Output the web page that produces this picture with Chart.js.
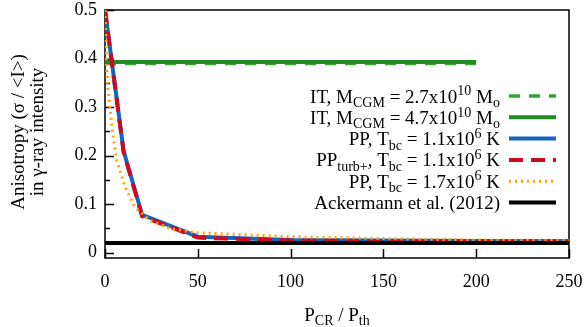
<!DOCTYPE html>
<html>
<head>
<meta charset="utf-8">
<script src="https://cdn.jsdelivr.net/npm/chart.js@4.4.1/dist/chart.umd.min.js"></script>
<style>
  html, body { margin: 0; padding: 0; background: #fff; }
</style>
</head>
<body>
<canvas id="anisoChart" width="587" height="327"></canvas>
<script>
// values (x = P_CR / P_th, y = anisotropy)
const itX = [0, 200];
const itLowMass = [0.390, 0.390];
const itHighMass = [0.393, 0.393];

const ppX = [0, 10, 20, 50, 100, 150, 200, 250];
const ppCool = [0.5, 0.21, 0.078, 0.033, 0.026, 0.025, 0.024, 0.024];
const ppTurb = [0.5, 0.208, 0.075, 0.031, 0.025, 0.024, 0.023, 0.023];

const ppHotX = [0, 0.5, 1.25, 2.7, 4, 6.3, 10.8, 16, 24, 35, 50, 100, 150, 200, 250];
const ppHot = [0.5, 0.44, 0.35, 0.30, 0.25, 0.19, 0.136, 0.094, 0.067, 0.05, 0.041, 0.033, 0.029, 0.026, 0.025];

const ackX = [0, 250];
const ackermann = [0.02, 0.02];

const xTicks = [0, 50, 100, 150, 200, 250];
const yTicks = [0, 0.1, 0.2, 0.3, 0.4, 0.5];
const yMinorTicks = [0.05, 0.15, 0.25, 0.35, 0.45];

// legend labels, split into [text, 'sub' | 'sup' | ''] pieces
const legendLabels = [
    [["IT, M", ""], ["CGM", "sub"], [" = 2.7x10", ""], ["10", "sup"], [" M", ""], ["o", "sub"]],
    [["IT, M", ""], ["CGM", "sub"], [" = 4.7x10", ""], ["10", "sup"], [" M", ""], ["o", "sub"]],
    [["PP, T", ""], ["bc", "sub"], [" = 1.1x10", ""], ["6", "sup"], [" K", ""]],
    [["PP", ""], ["turb+", "sub"], [", T", ""], ["bc", "sub"], [" = 1.1x10", ""], ["6", "sup"], [" K", ""]],
    [["PP, T", ""], ["bc", "sub"], [" = 1.7x10", ""], ["6", "sup"], [" K", ""]],
    [["Ackermann et al. (2012)", ""]]
];
const xTitle = [["P", ""], ["CR", "sub"], [" / P", ""], ["th", "sub"]];
const yTitleLines = ["Anisotropy (\u03c3 / <I>)", "in \u03b3-ray intensity"];

const serif = "'Liberation Serif', 'DejaVu Serif', serif";

function toPoints(xs, ys) {
    return xs.map((x, i) => ({ x: x, y: ys[i] }));
}

const datasets = [
    { data: toPoints(itX, itLowMass), borderColor: "#35a335", borderWidth: 3.5, borderDash: [11, 9] },
    { data: toPoints(itX, itHighMass), borderColor: "#228b22", borderWidth: 4 },
    { data: toPoints(ppX, ppCool), borderColor: "#1565c0", borderWidth: 4 },
    { data: toPoints(ppX, ppTurb), borderColor: "#cc0a24", borderWidth: 4, borderDash: [14, 8] },
    { data: toPoints(ppHotX, ppHot), borderColor: "#ffa500", borderWidth: 3, borderDash: [2, 4] },
    { data: toPoints(ackX, ackermann), borderColor: "#000000", borderWidth: 4 }
].map((d, i) => Object.assign({
    showLine: true,
    pointRadius: 0,
    fill: false,
    tension: 0,
    borderCapStyle: "butt",
    order: -i // later series drawn on top, as in the original
}, d));

function drawRich(ctx, parts, x, baseline, size, align) {
    const fontFor = p => (p[1] ? Math.round(size * 0.74) : size) + "px " + serif;
    let total = 0;
    parts.forEach(p => { ctx.font = fontFor(p); total += ctx.measureText(p[0]).width; });
    let cx = align === "right" ? x - total : (align === "center" ? x - total / 2 : x);
    ctx.textAlign = "left";
    ctx.textBaseline = "alphabetic";
    parts.forEach(p => {
        ctx.font = fontFor(p);
        const dy = p[1] === "sub" ? size * 0.24 : (p[1] === "sup" ? -size * 0.38 : 0);
        ctx.fillText(p[0], cx, baseline + dy);
        cx += ctx.measureText(p[0]).width;
    });
}

const decorPlugin = {
    id: "decor",
    beforeDatasetsDraw(chart) {
        const ctx = chart.ctx;
        const a = chart.chartArea;
        const xs = chart.scales.x, ys = chart.scales.y;
        ctx.save();
        ctx.strokeStyle = "#000";
        ctx.lineWidth = 1.5;
        ctx.strokeRect(a.left, a.top, a.right - a.left, a.bottom - a.top);
        ctx.beginPath();
        yTicks.forEach(v => {
            const y = Math.round(ys.getPixelForValue(v)) + 0.5;
            ctx.moveTo(a.left, y); ctx.lineTo(a.left + 9, y);
        });
        yMinorTicks.forEach(v => {
            const y = Math.round(ys.getPixelForValue(v)) + 0.5;
            ctx.moveTo(a.left, y); ctx.lineTo(a.left + 5, y);
        });
        xTicks.forEach(v => {
            const x = Math.round(xs.getPixelForValue(v)) + 0.5;
            ctx.moveTo(x, a.bottom); ctx.lineTo(x, a.bottom - 9);
        });
        ctx.stroke();
        ctx.restore();
    },
    afterDraw(chart) {
        const ctx = chart.ctx;
        const a = chart.chartArea;
        ctx.save();
        ctx.fillStyle = "#000";
        // legend
        const rowTop = 102.5, rowGap = 21.3;
        legendLabels.forEach((parts, i) => {
            const base = rowTop + i * rowGap;
            drawRich(ctx, parts, 500, base, 19, "right");
            const ds = chart.data.datasets[i];
            ctx.beginPath();
            ctx.strokeStyle = ds.borderColor;
            ctx.lineWidth = ds.borderWidth;
            ctx.setLineDash(ds.borderDash || []);
            ctx.moveTo(509, base - 6.5);
            ctx.lineTo(556, base - 6.5);
            ctx.stroke();
            ctx.setLineDash([]);
        });
        // axis titles
        drawRich(ctx, xTitle, (a.left + a.right) / 2, 320.5, 19, "center");
        ctx.font = "19px " + serif;
        ctx.textAlign = "center";
        ctx.textBaseline = "alphabetic";
        ctx.translate(24, 132);
        ctx.rotate(-Math.PI / 2);
        ctx.fillText(yTitleLines[0], 0, 0);
        ctx.fillText(yTitleLines[1], 0, 18.5);
        ctx.restore();
    }
};

const ctx = document.getElementById("anisoChart").getContext("2d");
const chart = new Chart(ctx, {
    type: "scatter",
    data: { datasets: datasets },
    options: {
        responsive: false,
        animation: false,
        layout: { padding: { left: 0, right: 18, top: 10, bottom: 0 } },
        plugins: { legend: { display: false }, tooltip: { enabled: false } },
        scales: {
            x: {
                type: "linear",
                min: 0,
                max: 250,
                grid: { display: false, drawTicks: false },
                border: { display: false },
                afterBuildTicks: scale => { scale.ticks = xTicks.map(v => ({ value: v })); },
                afterFit: scale => {
                    scale.height = 69;
                    scale.paddingLeft = 0;
                    scale.paddingRight = 0;
                },
                ticks: {
                    color: "#000",
                    padding: 13,
                    maxRotation: 0,
                    font: { family: serif, size: 18 },
                    callback: v => String(v)
                }
            },
            y: {
                type: "linear",
                min: -0.011,
                max: 0.5,
                grid: { display: false, drawTicks: false },
                border: { display: false },
                afterBuildTicks: scale => { scale.ticks = yTicks.map(v => ({ value: v })); },
                afterFit: scale => {
                    scale.width = 105;
                    scale.paddingTop = 0;
                    scale.paddingBottom = 0;
                },
                ticks: {
                    color: "#000",
                    padding: 8,
                    font: { family: serif, size: 18 },
                    callback: v => (v === 0 ? "0" : v.toFixed(1))
                }
            }
        }
    },
    plugins: [decorPlugin]
});
</script>
</body>
</html>
